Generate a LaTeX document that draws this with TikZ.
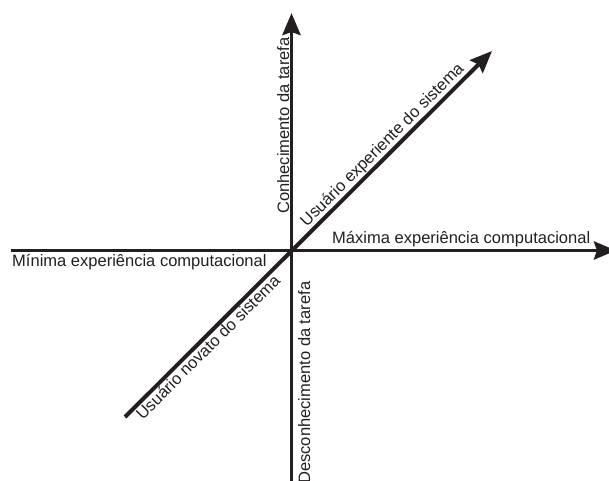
\documentclass[tikz,border=0pt]{standalone}
\usepackage{fontspec}
\setmainfont{Liberation Sans}
\usepackage{xcolor}
\usetikzlibrary{arrows.meta}
\definecolor{inkblack}{RGB}{35,31,32}

\begin{document}
\begin{tikzpicture}[x=0.03cm, y=-0.03cm,
        axis/.style={line width=3.4pt, draw=inkblack, -{Stealth[length=0.66cm, width=0.54cm, inset=0.09cm]}},
        lbl/.style={inner sep=0pt, font=\fontsize{14.1}{16}\selectfont, text=inkblack}]
        \useasboundingbox (0,0) rectangle (609,481);

        \coordinate (west) at (11,250.5);
        \coordinate (east) at (616,250.5);
        \coordinate (south) at (291.5,495);
        \coordinate (north) at (291.5,13);
        \coordinate (sw) at (125,417);
        \coordinate (ne) at (492,51);

        \draw[axis] (west) -- (east);
        \draw[axis] (south) -- (north);
        \draw[axis] (sw) -- (ne);

        \node[lbl, anchor=base west] (minexp) at (12,266.5) {Mínima experiência computacional};
        \node[lbl, anchor=base west] (maxexp) at (332,243.5) {Máxima experiência computacional};
        \node[lbl, anchor=base west, rotate=90] (know) at (289,214) {Conhecimento da tarefa};
        \node[lbl, anchor=base west, rotate=90] (noknow) at (310,484) {Desconhecimento da tarefa};
        \node[lbl, anchor=base west, rotate=45] (expert) at (306.7,227.5) {Usuário experiente do sistema};
        \node[lbl, anchor=base west, rotate=45] (novice) at (142.6,420.6) {Usuário novato do sistema};
    \end{tikzpicture}
\end{document}
